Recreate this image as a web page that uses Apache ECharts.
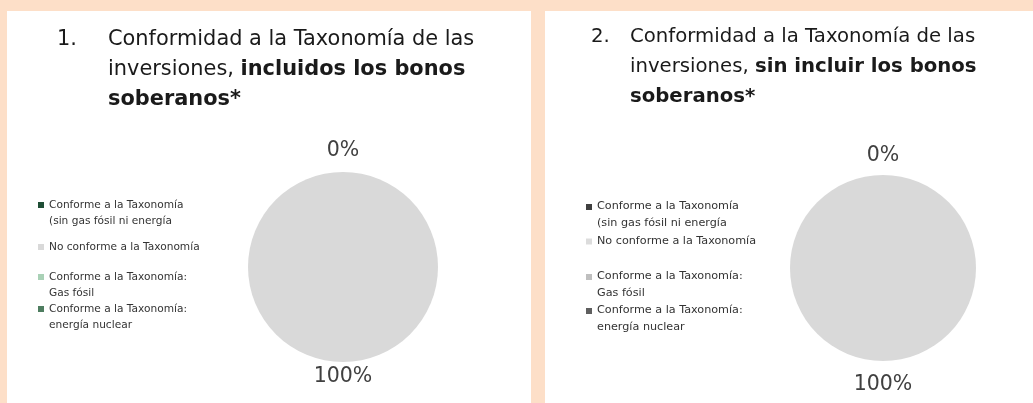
<!DOCTYPE html>
<html>
<head>
<meta charset="utf-8">
<script src="https://cdn.jsdelivr.net/npm/echarts@6/dist/echarts.min.js"></script>
<style>
  html, body { margin: 0; padding: 0; background: #fddfc8; }
  #chart { width: 1033px; height: 403px; }
</style>
</head>
<body>
<div id="chart"></div>
<script>
// categories as they appear in the legend
const categories = [
  'Conforme a la Taxonomía\n(sin gas fósil ni energía',
  'No conforme a la Taxonomía',
  'Conforme a la Taxonomía:\nGas fósil',
  'Conforme a la Taxonomía:\nenergía nuclear'
]
// 1. incluidos los bonos soberanos
const valuesWithBonds = [0, 100, 0, 0]
// 2. sin incluir los bonos soberanos
const valuesWithoutBonds = [0, 100, 0, 0]
const colorsGreen = ['#1f4e35', '#d9d9d9', '#a9d1b6', '#4e7d60']
const colorsGrey = ['#404040', '#d9d9d9', '#bfbfbf', '#5f5f5f']
const legendColorsGrey = ['#404040', '#dcdcdc', '#bfbfbf', '#5f5f5f']
// only the first zero slice carries its label in the original
const showLabel = [true, true, false, false]

const FONT = 'DejaVu Sans'
const TXT = '#1a1a1a'

// square icon pinned to the top of a taller box, so it lines up with the first text line
const TOP_ICON = 'path://M0,0h6v6h-6zM0,22h0'

const chart = echarts.init(document.getElementById('chart'))

const panels = [
  { cx: 343, cy: 267, r: 95, topY: 151, bottomY: 377, values: valuesWithBonds, colors: colorsGreen,
    legendColors: colorsGreen, legendLeft: 38, legendRows: [205, 247, 277, 309], legendSize: 10.6, legendLine: 16 },
  { cx: 883, cy: 268, r: 93, topY: 156, bottomY: 385, values: valuesWithoutBonds, colors: colorsGrey,
    legendColors: legendColorsGrey, legendLeft: 586, legendRows: [206, 241, 276, 310], legendSize: 11.2, legendLine: 17 }
]

function buildSeries(p) {
  return {
    type: 'pie',
    center: [p.cx, p.cy],
    radius: p.r,
    startAngle: 90,
    clockwise: true,
    avoidLabelOverlap: false,
    silent: true,
    itemStyle: { borderWidth: 0 },
    labelLine: { show: false },
    label: {
      position: 'outside',
      fontFamily: FONT,
      fontSize: 20.5,
      color: '#404040',
      formatter: (d) => Math.round(d.percent) + '%'
    },
    labelLayout: (params) => ({
      x: p.cx,
      y: p.values[params.dataIndex] === 0 ? p.topY : p.bottomY,
      align: 'center',
      verticalAlign: 'middle'
    }),
    data: categories.map((name, i) => ({
      name: name,
      value: p.values[i],
      itemStyle: { color: p.colors[i] },
      label: { show: showLabel[i] }
    }))
  }
}

function buildLegends(p) {
  return categories.map((name, i) => {
    const twoLines = name.indexOf('\n') >= 0
    return {
      orient: 'vertical',
      left: p.legendLeft,
      top: p.legendRows[i] - 8,
      padding: 0,
      itemWidth: 6,
      itemHeight: twoLines ? 22 : 6,
      selectedMode: false,
      icon: twoLines ? TOP_ICON : 'rect',
      textStyle: {
        fontFamily: FONT,
        fontSize: p.legendSize,
        color: '#333',
        lineHeight: p.legendLine
      },
      data: [{ name: name, itemStyle: { color: p.legendColors[i] } }]
    }
  })
}

const titleStyle = (size) => ({
  fontFamily: FONT,
  fontSize: size,
  fontWeight: 'normal',
  color: TXT,
  lineHeight: 30,
  rich: { b: { fontFamily: FONT, fontSize: size, fontWeight: 'bold', color: TXT, lineHeight: 30 } }
})

chart.setOption({
  backgroundColor: 'transparent',
  animation: false,
  graphic: [
    { type: 'rect', z: -10, shape: { x: 7, y: 11, width: 524, height: 392 }, style: { fill: '#fff' } },
    { type: 'rect', z: -10, shape: { x: 545, y: 11, width: 488, height: 392 }, style: { fill: '#fff' } }
  ],
  title: [
    { text: '1.', left: 57, top: 25, padding: 0, textStyle: titleStyle(20.9) },
    {
      text: 'Conformidad a la Taxonomía de las\ninversiones, {b|incluidos los bonos}\n{b|soberanos*}',
      left: 108, top: 25, padding: 0, textStyle: titleStyle(20.9)
    },
    { text: '2.', left: 591, top: 22, padding: 0, textStyle: titleStyle(19.7) },
    {
      text: 'Conformidad a la Taxonomía de las\ninversiones, {b|sin incluir los bonos}\n{b|soberanos*}',
      left: 630, top: 22, padding: 0, textStyle: titleStyle(19.7)
    }
  ],
  legend: buildLegends(panels[0]).concat(buildLegends(panels[1])),
  series: panels.map(buildSeries)
})
</script>
</body>
</html>
